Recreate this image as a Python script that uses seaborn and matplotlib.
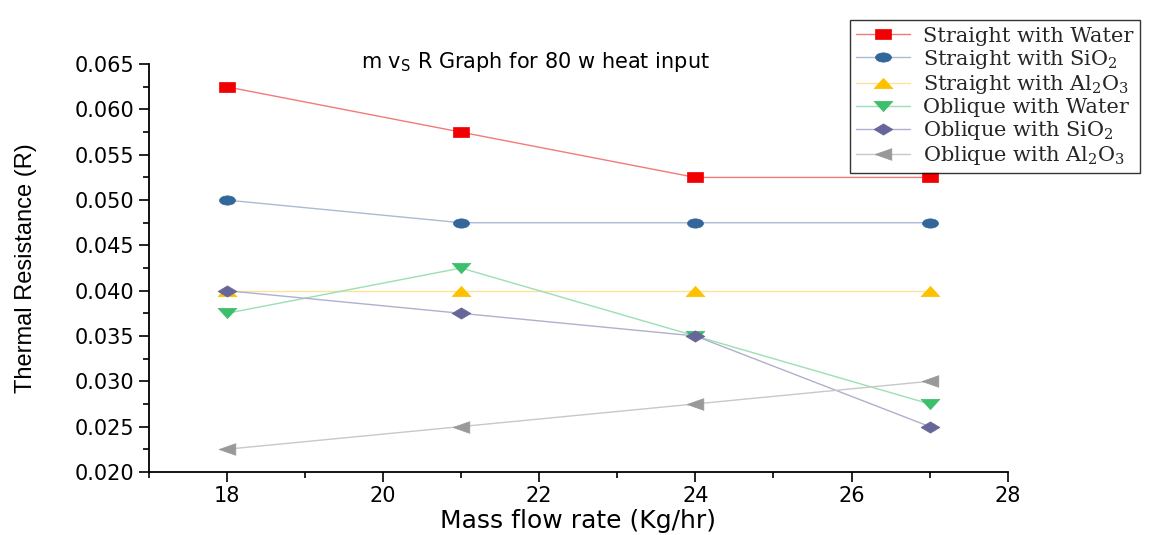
import matplotlib
matplotlib.use("Agg")
import matplotlib.pyplot as plt
import seaborn as sns
import pandas as pd
from matplotlib.path import Path
from matplotlib.ticker import MultipleLocator, FormatStrFormatter

flow = [18, 21, 24, 27]
straight_water = [0.0625, 0.0575, 0.0525, 0.0525]
straight_sio2 = [0.0500, 0.0475, 0.0475, 0.0475]
straight_al2o3 = [0.0400, 0.0400, 0.0400, 0.0400]
oblique_water = [0.0375, 0.0425, 0.0350, 0.0275]
oblique_sio2 = [0.0400, 0.0375, 0.0350, 0.0250]
oblique_al2o3 = [0.0225, 0.0250, 0.0275, 0.0300]

labels = ["Straight with Water", "Straight with SiO$_2$", "Straight with Al$_2$O$_3$",
          "Oblique with Water", "Oblique with SiO$_2$", "Oblique with Al$_2$O$_3$"]
series = [straight_water, straight_sio2, straight_al2o3,
          oblique_water, oblique_sio2, oblique_al2o3]
colors = ["#f00000", "#336699", "#ffc000", "#3cbf6a", "#66669a", "#999999"]
line_colors = ["#f47a7a", "#a9bcd2", "#ffe29a", "#9be0b2", "#b0b0cc", "#c8c8c8"]

# the original picture is stretched sideways, so the markers are too
circ = Path.unit_circle()
ellipse = Path(circ.vertices * [1, 0.58], circ.codes)
rect = Path([(-1, -0.65), (1, -0.65), (1, 0.65), (-1, 0.65), (-1, -0.65)], closed=True)
tri_up = Path([(-1, -0.55), (1, -0.55), (0, 0.55), (-1, -0.55)], closed=True)
tri_down = Path([(-1, 0.55), (1, 0.55), (0, -0.55), (-1, 0.55)], closed=True)
diamond = Path([(-1, 0), (0, 0.6), (1, 0), (0, -0.6), (-1, 0)], closed=True)
tri_left = Path([(-1, 0), (1, 0.7), (1, -0.7), (-1, 0)], closed=True)
markers = [rect, ellipse, tri_up, tri_down, diamond, tri_left]
msizes = [12, 11.5, 13.5, 13.5, 13.5, 12]

sns.set_theme(style="ticks")
plt.rcParams["font.family"] = ["DejaVu Sans"]
plt.rcParams["mathtext.fontset"] = "custom"
plt.rcParams["mathtext.rm"] = "DejaVu Serif"
plt.rcParams["mathtext.sf"] = "DejaVu Sans"

fig = plt.figure(figsize=(11.53, 5.35), dpi=100)
ax = fig.add_axes([0.129, 0.118, 0.745, 0.762])

for lab, vals, c, lc, m, ms in zip(labels, series, colors, line_colors, markers, msizes):
    df = pd.DataFrame({"flow": flow, "R": vals})
    sns.lineplot(data=df, x="flow", y="R", ax=ax, color=lc, lw=1.0,
                 marker=m, markersize=ms, markerfacecolor=c, markeredgecolor=c,
                 markeredgewidth=0.5, label=lab)

ax.set_xlim(17, 28)
ax.set_ylim(0.020, 0.065)
ax.xaxis.set_major_locator(MultipleLocator(2))
ax.xaxis.set_minor_locator(MultipleLocator(1))
ax.yaxis.set_major_locator(MultipleLocator(0.005))
ax.yaxis.set_minor_locator(MultipleLocator(0.0025))
ax.yaxis.set_major_formatter(FormatStrFormatter("%.3f"))
ax.tick_params(which="major", direction="out", length=7, width=1.2, labelsize=15, colors="black")
ax.tick_params(which="minor", direction="out", length=4, width=1.2, colors="black")
for s in ["left", "bottom"]:
    ax.spines[s].set_color("black")
    ax.spines[s].set_linewidth(1.3)
sns.despine(ax=ax)

ax.set_xlabel("Mass flow rate (Kg/hr)", fontsize=18, color="black")
ax.xaxis.set_label_coords(0.5, -0.09)
ax.set_ylabel("Thermal Resistance (R)", fontsize=17, family="Liberation Sans",
              fontstretch="condensed", color="black")
ax.yaxis.set_label_coords(-0.13, 0.5)
ax.text(0.45, 1.005, r"m v$_\mathsf{S}$ R Graph for 80 w heat input", transform=ax.transAxes,
        ha="center", va="center", fontsize=15, color="black")

leg = ax.legend(loc="upper right", prop={"family": "DejaVu Serif", "size": 15},
                frameon=True, fancybox=False, edgecolor="black", handlelength=2.6,
                labelspacing=0.1, borderpad=0.3, handletextpad=0.6)
leg.get_frame().set_linewidth(1.0)
leg.set_bbox_to_anchor((1150 / 1153, 1.0 - 10 / 535), transform=fig.transFigure)

fig.savefig("out.png", dpi=100)
